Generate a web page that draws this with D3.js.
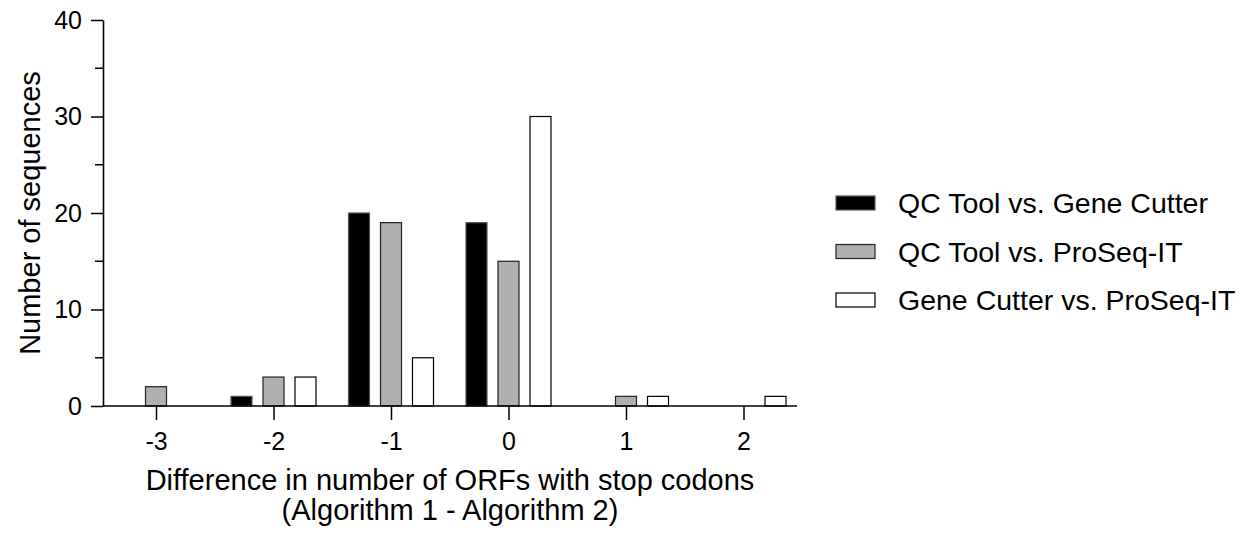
<!DOCTYPE html>
<html>
<head>
<meta charset="utf-8">
<script src="https://cdn.jsdelivr.net/npm/d3@7"></script>
<style>
  body { margin: 0; background: #fff; }
  text { font-family: "Liberation Sans", Arial, sans-serif; fill: #000; }
</style>
</head>
<body>
<svg width="1249" height="533"></svg>
<script>
var categories = [-3, -2, -1, 0, 1, 2];
var seriesNames = ["QC Tool vs. Gene Cutter", "QC Tool vs. ProSeq-IT", "Gene Cutter vs. ProSeq-IT"];
var qcVsGeneCutter = [0, 1, 20, 19, 0, 0];
var qcVsProSeq = [2, 3, 19, 15, 1, 0];
var geneCutterVsProSeq = [0, 3, 5, 30, 1, 1];
var yTicks = [0, 10, 20, 30, 40];
var yMinorTicks = [5, 15, 25, 35];

var series = [qcVsGeneCutter, qcVsProSeq, geneCutterVsProSeq];
var fills = ["#000000", "#b0b0b0", "#ffffff"];
var strokes = ["#555555", "#222222", "#000000"];

var svg = d3.select("svg");

var x = d3.scaleLinear().domain([-3, 2]).range([156, 743.5]);
var y = d3.scaleLinear().domain([0, 40]).range([406, 20]);
var offset = d3.scaleLinear().domain([0, 2]).range([-32, 32]);
var barW = 21;

// bars
var rows = [];
series.forEach(function(s, si) {
  s.forEach(function(v, ci) {
    if (v > 0) rows.push({s: si, c: categories[ci], v: v});
  });
});

svg.append("g").selectAll("rect")
  .data(rows)
  .join("rect")
    .attr("x", function(d) { return x(d.c) + offset(d.s) - barW / 2; })
    .attr("y", function(d) { return y(d.v); })
    .attr("width", barW)
    .attr("height", function(d) { return y(0) - y(d.v); })
    .attr("fill", function(d) { return fills[d.s]; })
    .attr("stroke", function(d) { return strokes[d.s]; })
    .attr("stroke-width", 1.2);

// y axis
var gy = svg.append("g").attr("transform", "translate(103,0)");
gy.call(d3.axisLeft(y).tickValues(yTicks).tickFormat(function(d) { return String(d); })
  .tickSize(12).tickPadding(9).tickSizeOuter(0));
gy.append("g").selectAll("line")
  .data(yMinorTicks)
  .join("line")
    .attr("x1", -8).attr("x2", 0)
    .attr("y1", function(d) { return y(d); })
    .attr("y2", function(d) { return y(d); })
    .attr("stroke", "#000").attr("stroke-width", 1.5);

// x axis
var gx = svg.append("g").attr("transform", "translate(0," + y(0) + ")");
gx.call(d3.axisBottom(x).tickValues(categories).tickFormat(function(d) { return String(d); })
  .tickSize(14).tickPadding(12).tickSizeOuter(0));
gx.select(".domain").attr("d", "M103,0H797");

svg.selectAll(".domain").attr("stroke", "#000").attr("stroke-width", 1.6);
svg.selectAll(".tick line").attr("stroke", "#000").attr("stroke-width", 1.5);
svg.selectAll(".tick text").style("font-size", "25px").style("font-family", "'Liberation Sans', Arial, sans-serif").attr("fill", "#000");

// axis titles
svg.append("text")
  .attr("transform", "translate(30," + y(20) + ") rotate(-90)")
  .attr("text-anchor", "middle")
  .attr("dominant-baseline", "central")
  .style("font-size", "29px")
  .text("Number of sequences");

svg.append("text")
  .attr("x", 450).attr("y", 490)
  .attr("text-anchor", "middle")
  .style("font-size", "29px")
  .text("Difference in number of ORFs with stop codons");
svg.append("text")
  .attr("x", 450).attr("y", 520)
  .attr("text-anchor", "middle")
  .style("font-size", "29px")
  .text("(Algorithm 1 - Algorithm 2)");

// legend
var legend = svg.append("g").selectAll("g")
  .data(seriesNames)
  .join("g")
    .attr("transform", function(d, i) { return "translate(836," + (203 + i * 48.5) + ")"; });
legend.append("rect")
  .attr("x", 0).attr("y", -7)
  .attr("width", 39).attr("height", 14)
  .attr("fill", function(d, i) { return fills[i]; })
  .attr("stroke", function(d, i) { return strokes[i]; })
  .attr("stroke-width", 1.2);
legend.append("text")
  .attr("x", 62).attr("y", 0)
  .attr("dominant-baseline", "central")
  .style("font-size", "28.5px")
  .text(function(d) { return d; });
</script>
</body>
</html>
